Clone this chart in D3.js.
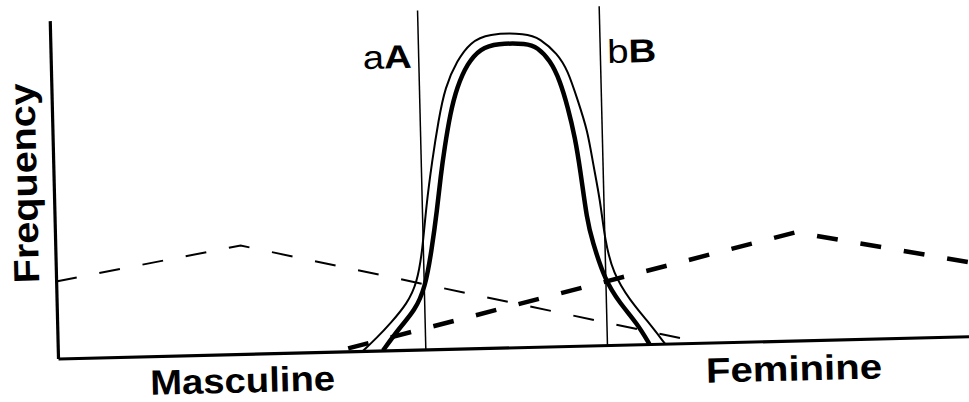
<!DOCTYPE html>
<html><head><meta charset="utf-8">
<script src="https://cdn.jsdelivr.net/npm/d3@7"></script>
<style>html,body{margin:0;padding:0;background:#fff;} svg{display:block;}</style>
</head><body>
<svg id="chart" width="969" height="402"></svg>
<script>
// Masculine distribution (thin dashed)
const masculineX = [0, 20.3, 68.7];
const masculineY = [22.8, 32.1, 1.2];
// Feminine distribution (thick dashed)
const feminineX = [31.8, 81.1, 100];
const feminineY = [0.9, 32.0, 21.9];
// Androgynous distribution, outer (thin) curve
const outerX = [33.4, 35.0, 36.5, 38.4, 39.5, 40.2, 40.7, 41.5, 42.3, 43.1, 44.5, 46.0, 47.9, 52.2, 53.6, 55.5, 56.6, 57.6, 58.6, 59.1, 59.8, 60.2, 61.0, 62.8, 64.6, 66.5];
const outerY = [0, 3.9, 8.0, 13.8, 19.6, 29.3, 42.0, 55.9, 67.7, 77.4, 85.3, 90.5, 93.0, 92.8, 91.2, 86.6, 81.5, 72.6, 63.6, 53.8, 42.8, 31.0, 21.2, 13.0, 7.0, 0];
// Androgynous distribution, inner (thick) curve
const innerX = [35.6, 37.5, 39.2, 40.4, 41.2, 41.9, 42.4, 42.9, 43.6, 44.4, 45.6, 47.1, 48.9, 52.2, 53.3, 54.7, 55.7, 56.5, 57.2, 57.7, 58.3, 58.8, 60.1, 61.7, 63.5, 64.8];
const innerY = [0, 6.7, 11.6, 18.3, 29.3, 41.1, 51.4, 59.6, 69.6, 77.3, 84.3, 88.7, 90.0, 89.8, 88.6, 84.6, 78.6, 70.6, 61.7, 51.9, 37.0, 31.1, 19.1, 12.2, 6.2, 0];
// Thresholds
const thresholdX = [40.3, 60.2];
const thresholdLow = ["a", "b"];
const thresholdHigh = ["A", "B"];
// Labels
const xLabels = ["Masculine", "Feminine"];
const yLabel = "Frequency";

const W = 913, H = 338;
const svg = d3.select("#chart");
svg.append("rect").attr("width", 969).attr("height", 402).attr("fill", "#fff");

const x = d3.scaleLinear().domain([0, 100]).range([0, W]);
const y = d3.scaleLinear().domain([0, 100]).range([0, -H]);

const g = svg.append("g").attr("transform", "translate(58,358.5) rotate(-1.4)");
const font = "'Liberation Sans', Arial, Helvetica, sans-serif";

const zip = (xs, ys) => xs.map((v, i) => [v, ys[i]]);
const straight = d3.line().x(d => x(d[0])).y(d => y(d[1]));
const smooth = d3.line().x(d => x(d[0])).y(d => y(d[1])).curve(d3.curveBasis);

// axes (no ticks)
const xAxisScale = x.copy().domain([0, 104]).range([0, x(104)]);
g.append("g").call(d3.axisBottom(xAxisScale).tickValues([]).tickSizeOuter(0))
  .call(s => s.select(".domain").attr("stroke", "#000").attr("stroke-width", 3.2));
g.append("g").call(d3.axisLeft(y).tickValues([]).tickSizeOuter(0))
  .call(s => s.select(".domain").attr("stroke", "#000").attr("stroke-width", 3.2));

// threshold lines
g.selectAll("line.thr").data(thresholdX).join("line").attr("class", "thr")
  .attr("x1", d => x(d)).attr("x2", d => x(d))
  .attr("y1", y(0)).attr("y2", y(100.3))
  .attr("stroke", "#000").attr("stroke-width", 1.5);

// dashed distributions
g.append("path").attr("d", straight(zip(masculineX, masculineY)))
  .attr("fill", "none").attr("stroke", "#000").attr("stroke-width", 2)
  .attr("stroke-dasharray", "21,23");
g.append("path").attr("d", straight(zip(feminineX, feminineY)))
  .attr("fill", "none").attr("stroke", "#000").attr("stroke-width", 4.5)
  .attr("stroke-dasharray", "21,23");

// androgynous curves
g.append("path").attr("d", smooth(zip(outerX, outerY)))
  .attr("fill", "none").attr("stroke", "#000").attr("stroke-width", 2).attr("stroke-linejoin", "round");
g.append("path").attr("d", smooth(zip(innerX, innerY)))
  .attr("fill", "none").attr("stroke", "#000").attr("stroke-width", 4.5).attr("stroke-linejoin", "round");

// threshold labels
const tl = g.selectAll("text.thr").data(thresholdX).join("text").attr("class", "thr")
  .attr("x", (d, i) => i === 0 ? x(d) - 7 : x(d) + 7)
  .attr("y", y(0) - 282)
  .attr("text-anchor", (d, i) => i === 0 ? "end" : "start")
  .attr("font-family", font).attr("font-size", 33)
  .attr("textLength", 49).attr("lengthAdjust", "spacingAndGlyphs");
tl.append("tspan").attr("font-weight", "normal").text((d, i) => thresholdLow[i]);
tl.append("tspan").attr("font-weight", "bold").text((d, i) => thresholdHigh[i]);

// axis labels
const xLabelPos = [[184, 38.5, 185], [735.5, 40, 176]];
g.selectAll("text.xl").data(xLabels).join("text").attr("class", "xl")
  .attr("x", (d, i) => xLabelPos[i][0]).attr("y", (d, i) => xLabelPos[i][1])
  .attr("text-anchor", "middle").attr("font-family", font).attr("font-weight", "bold")
  .attr("font-size", 35)
  .attr("textLength", (d, i) => xLabelPos[i][2]).attr("lengthAdjust", "spacingAndGlyphs")
  .text(d => d);

g.append("text").attr("transform", "translate(-17,-176) rotate(-90)")
  .attr("text-anchor", "middle").attr("font-family", font).attr("font-weight", "bold")
  .attr("font-size", 36).attr("textLength", 200).attr("lengthAdjust", "spacingAndGlyphs")
  .text(yLabel);
</script>
</body></html>
